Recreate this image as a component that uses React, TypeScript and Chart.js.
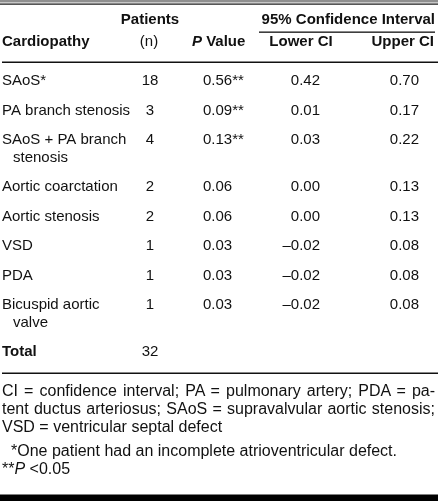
import React, { useEffect, useRef } from "react";
import { Chart, registerables } from "chart.js";

Chart.register(...registerables);

// ---------- data ----------
const cardiopathies: string[][] = [
  ["SAoS*"],
  ["PA branch stenosis"],
  ["SAoS + PA branch", "stenosis"],
  ["Aortic coarctation"],
  ["Aortic stenosis"],
  ["VSD"],
  ["PDA"],
  ["Bicuspid aortic", "valve"],
];
const patients = [18, 3, 4, 2, 2, 1, 1, 1];
const pValues = [0.56, 0.09, 0.13, 0.06, 0.06, 0.03, 0.03, 0.03];
const significant = [true, true, true, false, false, false, false, false];
const lowerCI = [0.42, 0.01, 0.03, 0.0, 0.0, -0.02, -0.02, -0.02];
const upperCI = [0.7, 0.17, 0.22, 0.13, 0.13, 0.08, 0.08, 0.08];
const totalLabel = "Total";
const totalPatients = 32;

const headerPatients = "Patients";
const headerN = "(n)";
const headerCard = "Cardiopathy";
const headerP = ["P", " Value"];
const headerCIGroup = "95% Confidence Interval";
const headerLower = "Lower CI";
const headerUpper = "Upper CI";

const abbreviations = [
  "CI = confidence interval; PA = pulmonary artery; PDA = pa-",
  "tent ductus arteriosus; SAoS = supravalvular aortic stenosis;",
  "VSD = ventricular septal defect",
];
const noteStar = "*One patient had an incomplete atrioventricular defect.";
const noteP = ["**", "P", " <0.05"];

// ---------- layout ----------
const W = 444;
const H = 501;
const FONT = '"Liberation Sans", Arial, Helvetica, sans-serif';
const FS = 15;
const NOTE_FS = 16;
const LINE_H = 18;
const FIRST_ROW = 81;
const ROW_PITCH = 29.4;
const COL = { name: 2, n: 150, p: 203, lower: 320, upper: 419 };

const rowLines = [...cardiopathies, [totalLabel]];
const rowY: number[] = [];
{
  let y = FIRST_ROW;
  rowLines.forEach((lines) => {
    rowY.push(y);
    y += ROW_PITCH + (lines.length - 1) * LINE_H;
  });
}

const fmt = (v: number) => (v < 0 ? "\u2013" + Math.abs(v).toFixed(2) : Math.abs(v).toFixed(2));

const tablePlugin = {
  id: "tableCells",
  beforeDatasetsDraw(chart: any) {
    const ctx = chart.ctx as CanvasRenderingContext2D;
    const xs = chart.scales.x;
    const ys = chart.scales.y;
    const px = (v: number) => xs.getPixelForValue(v);
    const py = (v: number) => ys.getPixelForValue(v);
    ctx.save();
    // rules
    ctx.fillStyle = "#8f8f8f";
    ctx.fillRect(px(0), py(0), px(438) - px(0), 2.5);
    ctx.fillStyle = "#111";
    ctx.fillRect(px(0), py(3.5), px(438) - px(0), 1.2);
    ctx.fillRect(px(259), py(31.5), px(435) - px(259), 1.3);
    ctx.fillRect(px(2), py(61.5), px(438) - px(2), 1.5);
    ctx.fillRect(px(2), py(372.5), px(438) - px(2), 1.5);
    ctx.fillStyle = "#000";
    ctx.fillRect(px(0), py(494.5), px(438) - px(0), 7);

    // headers
    ctx.fillStyle = "#111";
    ctx.textBaseline = "middle";
    ctx.font = `bold ${FS}px ${FONT}`;
    ctx.textAlign = "center";
    ctx.fillText(headerPatients, px(COL.n), py(20));
    ctx.textAlign = "right";
    ctx.fillText(headerCIGroup, px(435), py(20));
    ctx.textAlign = "left";
    ctx.fillText(headerCard, px(2), py(42));
    ctx.textAlign = "center";
    ctx.fillText(headerLower, px(301), py(42));
    ctx.textAlign = "right";
    ctx.fillText(headerUpper, px(434), py(42));
    ctx.textAlign = "left";
    ctx.font = `italic bold ${FS}px ${FONT}`;
    ctx.fillText(headerP[0], px(192), py(42));
    const pw = ctx.measureText(headerP[0]).width;
    ctx.font = `bold ${FS}px ${FONT}`;
    ctx.fillText(headerP[1], px(192) + pw, py(42));
    ctx.font = `${FS}px ${FONT}`;
    ctx.textAlign = "center";
    ctx.fillText(headerN, px(149), py(42));
    ctx.restore();
  },
  afterDatasetsDraw(chart: any) {
    const ctx = chart.ctx as CanvasRenderingContext2D;
    ctx.save();
    ctx.fillStyle = "#111";
    ctx.textBaseline = "middle";
    chart.data.datasets.forEach((ds: any, di: number) => {
      const meta = chart.getDatasetMeta(di);
      meta.data.forEach((el: any, i: number) => {
        const cell = ds.cells[i];
        if (cell == null) return;
        const lines: string[] = Array.isArray(cell) ? cell : [String(cell)];
        const bold = ds.boldRows && ds.boldRows[i];
        ctx.font = `${bold ? "bold " : ""}${FS}px ${FONT}`;
        ctx.textAlign = ds.align;
        lines.forEach((t, k) => {
          ctx.fillText(t, el.x + (k > 0 ? 11 : 0), el.y + k * LINE_H);
        });
      });
    });
    ctx.restore();
  },
};

function colData(x: number, count: number) {
  return rowY.slice(0, count).map((y) => ({ x, y }));
}

export default function App() {
  const ref = useRef<HTMLCanvasElement | null>(null);
  useEffect(() => {
    if (!ref.current) return;
    const n = rowLines.length;
    const chart = new Chart(ref.current, {
      type: "scatter",
      data: {
        datasets: [
          {
            label: "Cardiopathy",
            data: colData(COL.name, n),
            cells: rowLines,
            boldRows: rowLines.map((_, i) => i === n - 1),
            align: "left",
            pointRadius: 0,
          } as any,
          {
            label: "Patients (n)",
            data: colData(COL.n, n),
            cells: [...patients.map(String), String(totalPatients)],
            align: "center",
            pointRadius: 0,
          } as any,
          {
            label: "P Value",
            data: colData(COL.p, pValues.length),
            cells: pValues.map((v, i) => v.toFixed(2) + (significant[i] ? "**" : "")),
            align: "left",
            pointRadius: 0,
          } as any,
          {
            label: "Lower CI",
            data: colData(COL.lower, lowerCI.length),
            cells: lowerCI.map(fmt),
            align: "right",
            pointRadius: 0,
          } as any,
          {
            label: "Upper CI",
            data: colData(COL.upper, upperCI.length),
            cells: upperCI.map(fmt),
            align: "right",
            pointRadius: 0,
          } as any,
        ],
      },
      options: {
        animation: false,
        responsive: false,
        events: [],
        layout: { padding: 0 },
        plugins: { legend: { display: false }, tooltip: { enabled: false } },
        scales: {
          x: { type: "linear", display: false, min: 0, max: W },
          y: { type: "linear", display: false, min: 0, max: H, reverse: true },
        },
      },
      plugins: [tablePlugin],
    });
    return () => chart.destroy();
  }, []);

  return (
    <div style={{ position: "absolute", left: 0, top: 0, width: W, height: H, background: "#fff" }}>
      <canvas ref={ref} width={W} height={H} style={{ position: "absolute", left: 0, top: 0 }} />
      <div
        style={{
          position: "absolute",
          left: 2,
          top: 382,
          width: 433,
          font: `${NOTE_FS}px ${FONT}`,
          lineHeight: `${LINE_H}px`,
          color: "#111",
          whiteSpace: "nowrap",
        }}
      >
        {abbreviations.map((t, i) => (
          <div
            key={i}
            style={{
              textAlign: "left",
              textAlignLast: i < abbreviations.length - 1 ? "justify" : "left",
            } as any}
          >
            {t}
          </div>
        ))}
        <div style={{ marginTop: 6, paddingLeft: 9 }}>{noteStar}</div>
        <div>
          {noteP[0]}
          <i>{noteP[1]}</i>
          {noteP[2]}
        </div>
      </div>
    </div>
  );
}
